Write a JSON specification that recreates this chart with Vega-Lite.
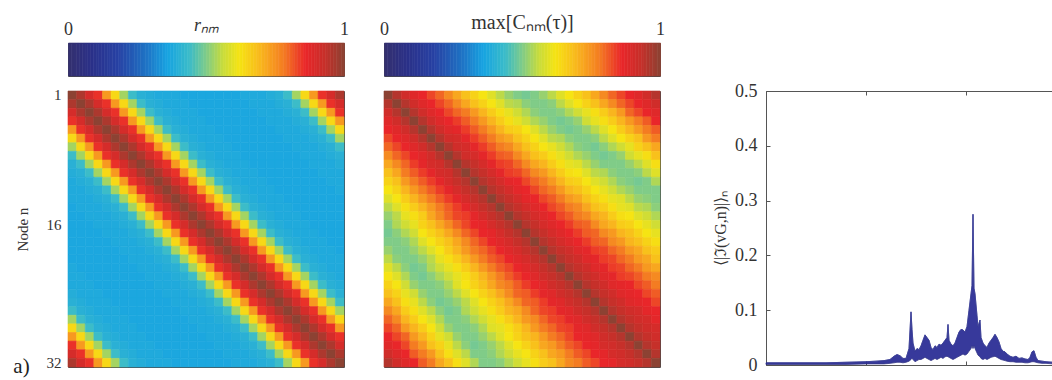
{
"$schema":"https://vega.github.io/schema/vega-lite/v6.json",
"padding":{"left":12,"top":11,"right":0,"bottom":0},
"background":"white",
"config":{"font":"Liberation Serif","view":{"stroke":"#4a4a4a","strokeWidth":1},"axis":{"labelFont":"Liberation Serif","titleFont":"Liberation Serif","labelColor":"#333","titleColor":"#333","titleFontWeight":"normal","grid":false}},
"datasets":{
"cbar":[{"v":0.005},{"v":0.015},{"v":0.025},{"v":0.035},{"v":0.045},{"v":0.055},{"v":0.065},{"v":0.075},{"v":0.085},{"v":0.095},{"v":0.105},{"v":0.115},{"v":0.125},{"v":0.135},{"v":0.145},{"v":0.155},{"v":0.165},{"v":0.175},{"v":0.185},{"v":0.195},{"v":0.205},{"v":0.215},{"v":0.225},{"v":0.235},{"v":0.245},{"v":0.255},{"v":0.265},{"v":0.275},{"v":0.285},{"v":0.295},{"v":0.305},{"v":0.315},{"v":0.325},{"v":0.335},{"v":0.345},{"v":0.355},{"v":0.365},{"v":0.375},{"v":0.385},{"v":0.395},{"v":0.405},{"v":0.415},{"v":0.425},{"v":0.435},{"v":0.445},{"v":0.455},{"v":0.465},{"v":0.475},{"v":0.485},{"v":0.495},{"v":0.505},{"v":0.515},{"v":0.525},{"v":0.535},{"v":0.545},{"v":0.555},{"v":0.565},{"v":0.575},{"v":0.585},{"v":0.595},{"v":0.605},{"v":0.615},{"v":0.625},{"v":0.635},{"v":0.645},{"v":0.655},{"v":0.665},{"v":0.675},{"v":0.685},{"v":0.695},{"v":0.705},{"v":0.715},{"v":0.725},{"v":0.735},{"v":0.745},{"v":0.755},{"v":0.765},{"v":0.775},{"v":0.785},{"v":0.795},{"v":0.805},{"v":0.815},{"v":0.825},{"v":0.835},{"v":0.845},{"v":0.855},{"v":0.865},{"v":0.875},{"v":0.885},{"v":0.895},{"v":0.905},{"v":0.915},{"v":0.925},{"v":0.935},{"v":0.945},{"v":0.955},{"v":0.965},{"v":0.975},{"v":0.985},{"v":0.995}],
"spec":[{"f":0,"lo":0.001,"hi":0.004},{"f":20,"lo":0.001,"hi":0.004},{"f":40,"lo":0.001,"hi":0.004},{"f":60,"lo":0.001,"hi":0.004},{"f":80,"lo":0.001,"hi":0.005},{"f":100,"lo":0.002,"hi":0.006},{"f":110,"lo":0.002,"hi":0.007},{"f":118,"lo":0.002,"hi":0.008},{"f":124,"lo":0.003,"hi":0.01},{"f":128,"lo":0.004,"hi":0.016},{"f":131,"lo":0.005,"hi":0.019},{"f":134,"lo":0.005,"hi":0.017},{"f":137,"lo":0.004,"hi":0.012},{"f":140,"lo":0.005,"hi":0.012},{"f":143,"lo":0.007,"hi":0.03},{"f":145,"lo":0.01,"hi":0.097},{"f":146,"lo":0.012,"hi":0.065},{"f":147,"lo":0.01,"hi":0.04},{"f":149,"lo":0.006,"hi":0.025},{"f":151,"lo":0.008,"hi":0.03},{"f":153,"lo":0.01,"hi":0.028},{"f":155,"lo":0.01,"hi":0.035},{"f":157,"lo":0.012,"hi":0.045},{"f":159,"lo":0.014,"hi":0.055},{"f":161,"lo":0.012,"hi":0.05},{"f":163,"lo":0.01,"hi":0.045},{"f":165,"lo":0.008,"hi":0.032},{"f":167,"lo":0.01,"hi":0.028},{"f":169,"lo":0.012,"hi":0.035},{"f":171,"lo":0.01,"hi":0.032},{"f":173,"lo":0.012,"hi":0.038},{"f":175,"lo":0.014,"hi":0.036},{"f":177,"lo":0.012,"hi":0.04},{"f":179,"lo":0.015,"hi":0.045},{"f":181,"lo":0.016,"hi":0.05},{"f":182,"lo":0.015,"hi":0.074},{"f":183,"lo":0.014,"hi":0.045},{"f":185,"lo":0.012,"hi":0.038},{"f":187,"lo":0.01,"hi":0.035},{"f":189,"lo":0.012,"hi":0.04},{"f":191,"lo":0.014,"hi":0.05},{"f":193,"lo":0.016,"hi":0.06},{"f":195,"lo":0.018,"hi":0.065},{"f":197,"lo":0.02,"hi":0.064},{"f":199,"lo":0.018,"hi":0.06},{"f":201,"lo":0.02,"hi":0.07},{"f":203,"lo":0.025,"hi":0.1},{"f":205,"lo":0.03,"hi":0.13},{"f":206,"lo":0.035,"hi":0.145},{"f":207,"lo":0.03,"hi":0.275},{"f":208,"lo":0.035,"hi":0.14},{"f":209,"lo":0.03,"hi":0.13},{"f":211,"lo":0.022,"hi":0.09},{"f":212,"lo":0.018,"hi":0.07},{"f":214,"lo":0.015,"hi":0.082},{"f":215,"lo":0.012,"hi":0.05},{"f":217,"lo":0.01,"hi":0.04},{"f":219,"lo":0.012,"hi":0.035},{"f":221,"lo":0.01,"hi":0.032},{"f":223,"lo":0.012,"hi":0.04},{"f":225,"lo":0.014,"hi":0.045},{"f":227,"lo":0.015,"hi":0.05},{"f":229,"lo":0.016,"hi":0.056},{"f":231,"lo":0.014,"hi":0.05},{"f":233,"lo":0.012,"hi":0.042},{"f":235,"lo":0.01,"hi":0.03},{"f":237,"lo":0.009,"hi":0.025},{"f":239,"lo":0.008,"hi":0.024},{"f":241,"lo":0.007,"hi":0.02},{"f":244,"lo":0.006,"hi":0.016},{"f":247,"lo":0.006,"hi":0.014},{"f":250,"lo":0.005,"hi":0.016},{"f":253,"lo":0.005,"hi":0.012},{"f":256,"lo":0.005,"hi":0.013},{"f":259,"lo":0.004,"hi":0.011},{"f":262,"lo":0.004,"hi":0.01},{"f":264,"lo":0.005,"hi":0.014},{"f":266,"lo":0.006,"hi":0.024},{"f":268,"lo":0.006,"hi":0.026},{"f":270,"lo":0.005,"hi":0.014},{"f":272,"lo":0.004,"hi":0.008},{"f":276,"lo":0.003,"hi":0.007},{"f":280,"lo":0.003,"hi":0.006},{"f":287,"lo":0.002,"hi":0.005}],
"cells":[
{"n":1,"m":1,"r":1,"c":1},{"n":1,"m":2,"r":0.96,"c":0.95},{"n":1,"m":3,"r":0.9,"c":0.91},{"n":1,"m":4,"r":0.85,"c":0.88},{"n":1,"m":5,"r":0.74,"c":0.86},{"n":1,"m":6,"r":0.64,"c":0.83},{"n":1,"m":7,"r":0.53,"c":0.8},{"n":1,"m":8,"r":0.44,"c":0.76},{"n":1,"m":9,"r":0.4,"c":0.72},{"n":1,"m":10,"r":0.39,"c":0.68},{"n":1,"m":11,"r":0.38,"c":0.65},{"n":1,"m":12,"r":0.38,"c":0.62},{"n":1,"m":13,"r":0.38,"c":0.59},{"n":1,"m":14,"r":0.37,"c":0.55},{"n":1,"m":15,"r":0.37,"c":0.52},{"n":1,"m":16,"r":0.37,"c":0.5},{"n":1,"m":17,"r":0.37,"c":0.49},{"n":1,"m":18,"r":0.37,"c":0.5},{"n":1,"m":19,"r":0.37,"c":0.52},{"n":1,"m":20,"r":0.37,"c":0.55},{"n":1,"m":21,"r":0.38,"c":0.59},{"n":1,"m":22,"r":0.38,"c":0.62},{"n":1,"m":23,"r":0.38,"c":0.65},{"n":1,"m":24,"r":0.39,"c":0.68},{"n":1,"m":25,"r":0.4,"c":0.72},{"n":1,"m":26,"r":0.44,"c":0.76},{"n":1,"m":27,"r":0.53,"c":0.8},{"n":1,"m":28,"r":0.64,"c":0.83},{"n":1,"m":29,"r":0.74,"c":0.86},{"n":1,"m":30,"r":0.85,"c":0.88},{"n":1,"m":31,"r":0.9,"c":0.91},{"n":1,"m":32,"r":0.96,"c":0.95},
{"n":2,"m":1,"r":0.96,"c":0.95},{"n":2,"m":2,"r":1,"c":1},{"n":2,"m":3,"r":0.96,"c":0.95},{"n":2,"m":4,"r":0.9,"c":0.91},{"n":2,"m":5,"r":0.85,"c":0.88},{"n":2,"m":6,"r":0.74,"c":0.86},{"n":2,"m":7,"r":0.64,"c":0.83},{"n":2,"m":8,"r":0.53,"c":0.8},{"n":2,"m":9,"r":0.44,"c":0.76},{"n":2,"m":10,"r":0.4,"c":0.72},{"n":2,"m":11,"r":0.39,"c":0.68},{"n":2,"m":12,"r":0.38,"c":0.65},{"n":2,"m":13,"r":0.38,"c":0.62},{"n":2,"m":14,"r":0.38,"c":0.59},{"n":2,"m":15,"r":0.37,"c":0.55},{"n":2,"m":16,"r":0.37,"c":0.54},{"n":2,"m":17,"r":0.37,"c":0.51},{"n":2,"m":18,"r":0.37,"c":0.5},{"n":2,"m":19,"r":0.37,"c":0.5},{"n":2,"m":20,"r":0.37,"c":0.51},{"n":2,"m":21,"r":0.37,"c":0.55},{"n":2,"m":22,"r":0.38,"c":0.59},{"n":2,"m":23,"r":0.38,"c":0.62},{"n":2,"m":24,"r":0.38,"c":0.65},{"n":2,"m":25,"r":0.39,"c":0.68},{"n":2,"m":26,"r":0.4,"c":0.72},{"n":2,"m":27,"r":0.44,"c":0.76},{"n":2,"m":28,"r":0.53,"c":0.8},{"n":2,"m":29,"r":0.64,"c":0.83},{"n":2,"m":30,"r":0.74,"c":0.86},{"n":2,"m":31,"r":0.85,"c":0.88},{"n":2,"m":32,"r":0.9,"c":0.91},
{"n":3,"m":1,"r":0.9,"c":0.91},{"n":3,"m":2,"r":0.96,"c":0.95},{"n":3,"m":3,"r":1,"c":1},{"n":3,"m":4,"r":0.96,"c":0.95},{"n":3,"m":5,"r":0.9,"c":0.91},{"n":3,"m":6,"r":0.85,"c":0.88},{"n":3,"m":7,"r":0.74,"c":0.86},{"n":3,"m":8,"r":0.64,"c":0.83},{"n":3,"m":9,"r":0.53,"c":0.8},{"n":3,"m":10,"r":0.44,"c":0.78},{"n":3,"m":11,"r":0.4,"c":0.74},{"n":3,"m":12,"r":0.39,"c":0.7},{"n":3,"m":13,"r":0.38,"c":0.66},{"n":3,"m":14,"r":0.38,"c":0.63},{"n":3,"m":15,"r":0.38,"c":0.6},{"n":3,"m":16,"r":0.37,"c":0.57},{"n":3,"m":17,"r":0.37,"c":0.54},{"n":3,"m":18,"r":0.37,"c":0.51},{"n":3,"m":19,"r":0.37,"c":0.5},{"n":3,"m":20,"r":0.37,"c":0.5},{"n":3,"m":21,"r":0.37,"c":0.51},{"n":3,"m":22,"r":0.37,"c":0.54},{"n":3,"m":23,"r":0.38,"c":0.57},{"n":3,"m":24,"r":0.38,"c":0.6},{"n":3,"m":25,"r":0.38,"c":0.63},{"n":3,"m":26,"r":0.39,"c":0.66},{"n":3,"m":27,"r":0.4,"c":0.7},{"n":3,"m":28,"r":0.44,"c":0.74},{"n":3,"m":29,"r":0.53,"c":0.8},{"n":3,"m":30,"r":0.64,"c":0.83},{"n":3,"m":31,"r":0.74,"c":0.86},{"n":3,"m":32,"r":0.85,"c":0.88},
{"n":4,"m":1,"r":0.85,"c":0.88},{"n":4,"m":2,"r":0.9,"c":0.91},{"n":4,"m":3,"r":0.96,"c":0.95},{"n":4,"m":4,"r":1,"c":1},{"n":4,"m":5,"r":0.96,"c":0.95},{"n":4,"m":6,"r":0.9,"c":0.91},{"n":4,"m":7,"r":0.85,"c":0.88},{"n":4,"m":8,"r":0.74,"c":0.86},{"n":4,"m":9,"r":0.64,"c":0.84},{"n":4,"m":10,"r":0.53,"c":0.81},{"n":4,"m":11,"r":0.44,"c":0.78},{"n":4,"m":12,"r":0.4,"c":0.74},{"n":4,"m":13,"r":0.39,"c":0.7},{"n":4,"m":14,"r":0.38,"c":0.66},{"n":4,"m":15,"r":0.38,"c":0.63},{"n":4,"m":16,"r":0.38,"c":0.6},{"n":4,"m":17,"r":0.37,"c":0.57},{"n":4,"m":18,"r":0.37,"c":0.54},{"n":4,"m":19,"r":0.37,"c":0.52},{"n":4,"m":20,"r":0.37,"c":0.5},{"n":4,"m":21,"r":0.37,"c":0.49},{"n":4,"m":22,"r":0.37,"c":0.5},{"n":4,"m":23,"r":0.37,"c":0.52},{"n":4,"m":24,"r":0.38,"c":0.57},{"n":4,"m":25,"r":0.38,"c":0.6},{"n":4,"m":26,"r":0.38,"c":0.63},{"n":4,"m":27,"r":0.39,"c":0.66},{"n":4,"m":28,"r":0.4,"c":0.7},{"n":4,"m":29,"r":0.44,"c":0.74},{"n":4,"m":30,"r":0.53,"c":0.78},{"n":4,"m":31,"r":0.64,"c":0.81},{"n":4,"m":32,"r":0.74,"c":0.86},
{"n":5,"m":1,"r":0.74,"c":0.86},{"n":5,"m":2,"r":0.85,"c":0.88},{"n":5,"m":3,"r":0.9,"c":0.91},{"n":5,"m":4,"r":0.96,"c":0.95},{"n":5,"m":5,"r":1,"c":1},{"n":5,"m":6,"r":0.96,"c":0.95},{"n":5,"m":7,"r":0.9,"c":0.91},{"n":5,"m":8,"r":0.85,"c":0.88},{"n":5,"m":9,"r":0.74,"c":0.87},{"n":5,"m":10,"r":0.64,"c":0.84},{"n":5,"m":11,"r":0.53,"c":0.81},{"n":5,"m":12,"r":0.44,"c":0.78},{"n":5,"m":13,"r":0.4,"c":0.74},{"n":5,"m":14,"r":0.39,"c":0.7},{"n":5,"m":15,"r":0.38,"c":0.66},{"n":5,"m":16,"r":0.38,"c":0.65},{"n":5,"m":17,"r":0.38,"c":0.62},{"n":5,"m":18,"r":0.37,"c":0.59},{"n":5,"m":19,"r":0.37,"c":0.55},{"n":5,"m":20,"r":0.37,"c":0.52},{"n":5,"m":21,"r":0.37,"c":0.5},{"n":5,"m":22,"r":0.37,"c":0.49},{"n":5,"m":23,"r":0.37,"c":0.5},{"n":5,"m":24,"r":0.37,"c":0.52},{"n":5,"m":25,"r":0.38,"c":0.55},{"n":5,"m":26,"r":0.38,"c":0.59},{"n":5,"m":27,"r":0.38,"c":0.62},{"n":5,"m":28,"r":0.39,"c":0.66},{"n":5,"m":29,"r":0.4,"c":0.7},{"n":5,"m":30,"r":0.44,"c":0.74},{"n":5,"m":31,"r":0.53,"c":0.78},{"n":5,"m":32,"r":0.64,"c":0.81},
{"n":6,"m":1,"r":0.64,"c":0.83},{"n":6,"m":2,"r":0.74,"c":0.86},{"n":6,"m":3,"r":0.85,"c":0.88},{"n":6,"m":4,"r":0.9,"c":0.91},{"n":6,"m":5,"r":0.96,"c":0.95},{"n":6,"m":6,"r":1,"c":1},{"n":6,"m":7,"r":0.96,"c":0.95},{"n":6,"m":8,"r":0.9,"c":0.91},{"n":6,"m":9,"r":0.85,"c":0.9},{"n":6,"m":10,"r":0.74,"c":0.87},{"n":6,"m":11,"r":0.64,"c":0.84},{"n":6,"m":12,"r":0.53,"c":0.81},{"n":6,"m":13,"r":0.44,"c":0.78},{"n":6,"m":14,"r":0.4,"c":0.74},{"n":6,"m":15,"r":0.39,"c":0.72},{"n":6,"m":16,"r":0.38,"c":0.68},{"n":6,"m":17,"r":0.38,"c":0.65},{"n":6,"m":18,"r":0.38,"c":0.62},{"n":6,"m":19,"r":0.37,"c":0.59},{"n":6,"m":20,"r":0.37,"c":0.55},{"n":6,"m":21,"r":0.37,"c":0.54},{"n":6,"m":22,"r":0.37,"c":0.51},{"n":6,"m":23,"r":0.37,"c":0.5},{"n":6,"m":24,"r":0.37,"c":0.5},{"n":6,"m":25,"r":0.37,"c":0.51},{"n":6,"m":26,"r":0.38,"c":0.55},{"n":6,"m":27,"r":0.38,"c":0.59},{"n":6,"m":28,"r":0.38,"c":0.62},{"n":6,"m":29,"r":0.39,"c":0.65},{"n":6,"m":30,"r":0.4,"c":0.68},{"n":6,"m":31,"r":0.44,"c":0.74},{"n":6,"m":32,"r":0.53,"c":0.78},
{"n":7,"m":1,"r":0.53,"c":0.8},{"n":7,"m":2,"r":0.64,"c":0.83},{"n":7,"m":3,"r":0.74,"c":0.86},{"n":7,"m":4,"r":0.85,"c":0.88},{"n":7,"m":5,"r":0.9,"c":0.91},{"n":7,"m":6,"r":0.96,"c":0.95},{"n":7,"m":7,"r":1,"c":1},{"n":7,"m":8,"r":0.96,"c":0.95},{"n":7,"m":9,"r":0.9,"c":0.91},{"n":7,"m":10,"r":0.85,"c":0.9},{"n":7,"m":11,"r":0.74,"c":0.87},{"n":7,"m":12,"r":0.64,"c":0.84},{"n":7,"m":13,"r":0.53,"c":0.81},{"n":7,"m":14,"r":0.44,"c":0.78},{"n":7,"m":15,"r":0.4,"c":0.76},{"n":7,"m":16,"r":0.39,"c":0.72},{"n":7,"m":17,"r":0.38,"c":0.68},{"n":7,"m":18,"r":0.38,"c":0.65},{"n":7,"m":19,"r":0.38,"c":0.62},{"n":7,"m":20,"r":0.37,"c":0.6},{"n":7,"m":21,"r":0.37,"c":0.57},{"n":7,"m":22,"r":0.37,"c":0.54},{"n":7,"m":23,"r":0.37,"c":0.51},{"n":7,"m":24,"r":0.37,"c":0.5},{"n":7,"m":25,"r":0.37,"c":0.49},{"n":7,"m":26,"r":0.37,"c":0.51},{"n":7,"m":27,"r":0.38,"c":0.54},{"n":7,"m":28,"r":0.38,"c":0.57},{"n":7,"m":29,"r":0.38,"c":0.6},{"n":7,"m":30,"r":0.39,"c":0.65},{"n":7,"m":31,"r":0.4,"c":0.68},{"n":7,"m":32,"r":0.44,"c":0.72},
{"n":8,"m":1,"r":0.44,"c":0.76},{"n":8,"m":2,"r":0.53,"c":0.8},{"n":8,"m":3,"r":0.64,"c":0.83},{"n":8,"m":4,"r":0.74,"c":0.86},{"n":8,"m":5,"r":0.85,"c":0.88},{"n":8,"m":6,"r":0.9,"c":0.91},{"n":8,"m":7,"r":0.96,"c":0.95},{"n":8,"m":8,"r":1,"c":1},{"n":8,"m":9,"r":0.96,"c":0.95},{"n":8,"m":10,"r":0.9,"c":0.91},{"n":8,"m":11,"r":0.85,"c":0.9},{"n":8,"m":12,"r":0.74,"c":0.87},{"n":8,"m":13,"r":0.64,"c":0.84},{"n":8,"m":14,"r":0.53,"c":0.81},{"n":8,"m":15,"r":0.44,"c":0.8},{"n":8,"m":16,"r":0.4,"c":0.76},{"n":8,"m":17,"r":0.39,"c":0.72},{"n":8,"m":18,"r":0.38,"c":0.68},{"n":8,"m":19,"r":0.38,"c":0.66},{"n":8,"m":20,"r":0.38,"c":0.63},{"n":8,"m":21,"r":0.37,"c":0.6},{"n":8,"m":22,"r":0.37,"c":0.57},{"n":8,"m":23,"r":0.37,"c":0.54},{"n":8,"m":24,"r":0.37,"c":0.52},{"n":8,"m":25,"r":0.37,"c":0.5},{"n":8,"m":26,"r":0.37,"c":0.49},{"n":8,"m":27,"r":0.37,"c":0.5},{"n":8,"m":28,"r":0.38,"c":0.52},{"n":8,"m":29,"r":0.38,"c":0.57},{"n":8,"m":30,"r":0.38,"c":0.6},{"n":8,"m":31,"r":0.39,"c":0.63},{"n":8,"m":32,"r":0.4,"c":0.68},
{"n":9,"m":1,"r":0.4,"c":0.72},{"n":9,"m":2,"r":0.44,"c":0.76},{"n":9,"m":3,"r":0.53,"c":0.8},{"n":9,"m":4,"r":0.64,"c":0.84},{"n":9,"m":5,"r":0.74,"c":0.87},{"n":9,"m":6,"r":0.85,"c":0.9},{"n":9,"m":7,"r":0.9,"c":0.91},{"n":9,"m":8,"r":0.96,"c":0.95},{"n":9,"m":9,"r":1,"c":1},{"n":9,"m":10,"r":0.96,"c":0.95},{"n":9,"m":11,"r":0.9,"c":0.93},{"n":9,"m":12,"r":0.85,"c":0.9},{"n":9,"m":13,"r":0.74,"c":0.87},{"n":9,"m":14,"r":0.64,"c":0.84},{"n":9,"m":15,"r":0.53,"c":0.83},{"n":9,"m":16,"r":0.44,"c":0.8},{"n":9,"m":17,"r":0.4,"c":0.76},{"n":9,"m":18,"r":0.39,"c":0.72},{"n":9,"m":19,"r":0.38,"c":0.7},{"n":9,"m":20,"r":0.38,"c":0.66},{"n":9,"m":21,"r":0.38,"c":0.63},{"n":9,"m":22,"r":0.37,"c":0.6},{"n":9,"m":23,"r":0.37,"c":0.59},{"n":9,"m":24,"r":0.37,"c":0.55},{"n":9,"m":25,"r":0.37,"c":0.52},{"n":9,"m":26,"r":0.37,"c":0.5},{"n":9,"m":27,"r":0.37,"c":0.5},{"n":9,"m":28,"r":0.37,"c":0.5},{"n":9,"m":29,"r":0.38,"c":0.52},{"n":9,"m":30,"r":0.38,"c":0.55},{"n":9,"m":31,"r":0.38,"c":0.59},{"n":9,"m":32,"r":0.39,"c":0.63},
{"n":10,"m":1,"r":0.39,"c":0.68},{"n":10,"m":2,"r":0.4,"c":0.72},{"n":10,"m":3,"r":0.44,"c":0.78},{"n":10,"m":4,"r":0.53,"c":0.81},{"n":10,"m":5,"r":0.64,"c":0.84},{"n":10,"m":6,"r":0.74,"c":0.87},{"n":10,"m":7,"r":0.85,"c":0.9},{"n":10,"m":8,"r":0.9,"c":0.91},{"n":10,"m":9,"r":0.96,"c":0.95},{"n":10,"m":10,"r":1,"c":1},{"n":10,"m":11,"r":0.96,"c":0.95},{"n":10,"m":12,"r":0.9,"c":0.93},{"n":10,"m":13,"r":0.85,"c":0.9},{"n":10,"m":14,"r":0.74,"c":0.87},{"n":10,"m":15,"r":0.64,"c":0.84},{"n":10,"m":16,"r":0.53,"c":0.83},{"n":10,"m":17,"r":0.44,"c":0.8},{"n":10,"m":18,"r":0.4,"c":0.76},{"n":10,"m":19,"r":0.39,"c":0.74},{"n":10,"m":20,"r":0.38,"c":0.7},{"n":10,"m":21,"r":0.38,"c":0.66},{"n":10,"m":22,"r":0.38,"c":0.63},{"n":10,"m":23,"r":0.37,"c":0.62},{"n":10,"m":24,"r":0.37,"c":0.59},{"n":10,"m":25,"r":0.37,"c":0.55},{"n":10,"m":26,"r":0.37,"c":0.54},{"n":10,"m":27,"r":0.37,"c":0.51},{"n":10,"m":28,"r":0.37,"c":0.5},{"n":10,"m":29,"r":0.37,"c":0.5},{"n":10,"m":30,"r":0.38,"c":0.51},{"n":10,"m":31,"r":0.38,"c":0.55},{"n":10,"m":32,"r":0.38,"c":0.59},
{"n":11,"m":1,"r":0.38,"c":0.65},{"n":11,"m":2,"r":0.39,"c":0.68},{"n":11,"m":3,"r":0.4,"c":0.74},{"n":11,"m":4,"r":0.44,"c":0.78},{"n":11,"m":5,"r":0.53,"c":0.81},{"n":11,"m":6,"r":0.64,"c":0.84},{"n":11,"m":7,"r":0.74,"c":0.87},{"n":11,"m":8,"r":0.85,"c":0.9},{"n":11,"m":9,"r":0.9,"c":0.93},{"n":11,"m":10,"r":0.96,"c":0.95},{"n":11,"m":11,"r":1,"c":1},{"n":11,"m":12,"r":0.96,"c":0.95},{"n":11,"m":13,"r":0.9,"c":0.93},{"n":11,"m":14,"r":0.85,"c":0.9},{"n":11,"m":15,"r":0.74,"c":0.87},{"n":11,"m":16,"r":0.64,"c":0.86},{"n":11,"m":17,"r":0.53,"c":0.83},{"n":11,"m":18,"r":0.44,"c":0.8},{"n":11,"m":19,"r":0.4,"c":0.78},{"n":11,"m":20,"r":0.39,"c":0.74},{"n":11,"m":21,"r":0.38,"c":0.7},{"n":11,"m":22,"r":0.38,"c":0.66},{"n":11,"m":23,"r":0.38,"c":0.65},{"n":11,"m":24,"r":0.37,"c":0.62},{"n":11,"m":25,"r":0.37,"c":0.59},{"n":11,"m":26,"r":0.37,"c":0.57},{"n":11,"m":27,"r":0.37,"c":0.54},{"n":11,"m":28,"r":0.37,"c":0.51},{"n":11,"m":29,"r":0.37,"c":0.5},{"n":11,"m":30,"r":0.37,"c":0.49},{"n":11,"m":31,"r":0.38,"c":0.5},{"n":11,"m":32,"r":0.38,"c":0.54},
{"n":12,"m":1,"r":0.38,"c":0.62},{"n":12,"m":2,"r":0.38,"c":0.65},{"n":12,"m":3,"r":0.39,"c":0.7},{"n":12,"m":4,"r":0.4,"c":0.74},{"n":12,"m":5,"r":0.44,"c":0.78},{"n":12,"m":6,"r":0.53,"c":0.81},{"n":12,"m":7,"r":0.64,"c":0.84},{"n":12,"m":8,"r":0.74,"c":0.87},{"n":12,"m":9,"r":0.85,"c":0.9},{"n":12,"m":10,"r":0.9,"c":0.93},{"n":12,"m":11,"r":0.96,"c":0.95},{"n":12,"m":12,"r":1,"c":1},{"n":12,"m":13,"r":0.96,"c":0.95},{"n":12,"m":14,"r":0.9,"c":0.93},{"n":12,"m":15,"r":0.85,"c":0.9},{"n":12,"m":16,"r":0.74,"c":0.87},{"n":12,"m":17,"r":0.64,"c":0.86},{"n":12,"m":18,"r":0.53,"c":0.83},{"n":12,"m":19,"r":0.44,"c":0.8},{"n":12,"m":20,"r":0.4,"c":0.78},{"n":12,"m":21,"r":0.39,"c":0.74},{"n":12,"m":22,"r":0.38,"c":0.7},{"n":12,"m":23,"r":0.38,"c":0.68},{"n":12,"m":24,"r":0.38,"c":0.65},{"n":12,"m":25,"r":0.37,"c":0.62},{"n":12,"m":26,"r":0.37,"c":0.6},{"n":12,"m":27,"r":0.37,"c":0.57},{"n":12,"m":28,"r":0.37,"c":0.54},{"n":12,"m":29,"r":0.37,"c":0.52},{"n":12,"m":30,"r":0.37,"c":0.5},{"n":12,"m":31,"r":0.37,"c":0.5},{"n":12,"m":32,"r":0.38,"c":0.5},
{"n":13,"m":1,"r":0.38,"c":0.59},{"n":13,"m":2,"r":0.38,"c":0.62},{"n":13,"m":3,"r":0.38,"c":0.66},{"n":13,"m":4,"r":0.39,"c":0.7},{"n":13,"m":5,"r":0.4,"c":0.74},{"n":13,"m":6,"r":0.44,"c":0.78},{"n":13,"m":7,"r":0.53,"c":0.81},{"n":13,"m":8,"r":0.64,"c":0.84},{"n":13,"m":9,"r":0.74,"c":0.87},{"n":13,"m":10,"r":0.85,"c":0.9},{"n":13,"m":11,"r":0.9,"c":0.93},{"n":13,"m":12,"r":0.96,"c":0.95},{"n":13,"m":13,"r":1,"c":1},{"n":13,"m":14,"r":0.96,"c":0.95},{"n":13,"m":15,"r":0.9,"c":0.93},{"n":13,"m":16,"r":0.85,"c":0.9},{"n":13,"m":17,"r":0.74,"c":0.87},{"n":13,"m":18,"r":0.64,"c":0.86},{"n":13,"m":19,"r":0.53,"c":0.83},{"n":13,"m":20,"r":0.44,"c":0.81},{"n":13,"m":21,"r":0.4,"c":0.78},{"n":13,"m":22,"r":0.39,"c":0.74},{"n":13,"m":23,"r":0.38,"c":0.72},{"n":13,"m":24,"r":0.38,"c":0.68},{"n":13,"m":25,"r":0.38,"c":0.65},{"n":13,"m":26,"r":0.37,"c":0.63},{"n":13,"m":27,"r":0.37,"c":0.6},{"n":13,"m":28,"r":0.37,"c":0.59},{"n":13,"m":29,"r":0.37,"c":0.55},{"n":13,"m":30,"r":0.37,"c":0.52},{"n":13,"m":31,"r":0.37,"c":0.51},{"n":13,"m":32,"r":0.37,"c":0.5},
{"n":14,"m":1,"r":0.37,"c":0.55},{"n":14,"m":2,"r":0.38,"c":0.59},{"n":14,"m":3,"r":0.38,"c":0.63},{"n":14,"m":4,"r":0.38,"c":0.66},{"n":14,"m":5,"r":0.39,"c":0.7},{"n":14,"m":6,"r":0.4,"c":0.74},{"n":14,"m":7,"r":0.44,"c":0.78},{"n":14,"m":8,"r":0.53,"c":0.81},{"n":14,"m":9,"r":0.64,"c":0.84},{"n":14,"m":10,"r":0.74,"c":0.87},{"n":14,"m":11,"r":0.85,"c":0.9},{"n":14,"m":12,"r":0.9,"c":0.93},{"n":14,"m":13,"r":0.96,"c":0.95},{"n":14,"m":14,"r":1,"c":1},{"n":14,"m":15,"r":0.96,"c":0.95},{"n":14,"m":16,"r":0.9,"c":0.93},{"n":14,"m":17,"r":0.85,"c":0.9},{"n":14,"m":18,"r":0.74,"c":0.88},{"n":14,"m":19,"r":0.64,"c":0.86},{"n":14,"m":20,"r":0.53,"c":0.83},{"n":14,"m":21,"r":0.44,"c":0.81},{"n":14,"m":22,"r":0.4,"c":0.78},{"n":14,"m":23,"r":0.39,"c":0.76},{"n":14,"m":24,"r":0.38,"c":0.72},{"n":14,"m":25,"r":0.38,"c":0.68},{"n":14,"m":26,"r":0.38,"c":0.66},{"n":14,"m":27,"r":0.37,"c":0.63},{"n":14,"m":28,"r":0.37,"c":0.6},{"n":14,"m":29,"r":0.37,"c":0.59},{"n":14,"m":30,"r":0.37,"c":0.55},{"n":14,"m":31,"r":0.37,"c":0.54},{"n":14,"m":32,"r":0.37,"c":0.51},
{"n":15,"m":1,"r":0.37,"c":0.52},{"n":15,"m":2,"r":0.37,"c":0.55},{"n":15,"m":3,"r":0.38,"c":0.6},{"n":15,"m":4,"r":0.38,"c":0.63},{"n":15,"m":5,"r":0.38,"c":0.66},{"n":15,"m":6,"r":0.39,"c":0.72},{"n":15,"m":7,"r":0.4,"c":0.76},{"n":15,"m":8,"r":0.44,"c":0.8},{"n":15,"m":9,"r":0.53,"c":0.83},{"n":15,"m":10,"r":0.64,"c":0.84},{"n":15,"m":11,"r":0.74,"c":0.87},{"n":15,"m":12,"r":0.85,"c":0.9},{"n":15,"m":13,"r":0.9,"c":0.93},{"n":15,"m":14,"r":0.96,"c":0.95},{"n":15,"m":15,"r":1,"c":1},{"n":15,"m":16,"r":0.96,"c":0.95},{"n":15,"m":17,"r":0.9,"c":0.93},{"n":15,"m":18,"r":0.85,"c":0.9},{"n":15,"m":19,"r":0.74,"c":0.88},{"n":15,"m":20,"r":0.64,"c":0.86},{"n":15,"m":21,"r":0.53,"c":0.83},{"n":15,"m":22,"r":0.44,"c":0.81},{"n":15,"m":23,"r":0.4,"c":0.78},{"n":15,"m":24,"r":0.39,"c":0.76},{"n":15,"m":25,"r":0.38,"c":0.72},{"n":15,"m":26,"r":0.38,"c":0.7},{"n":15,"m":27,"r":0.38,"c":0.66},{"n":15,"m":28,"r":0.37,"c":0.63},{"n":15,"m":29,"r":0.37,"c":0.62},{"n":15,"m":30,"r":0.37,"c":0.59},{"n":15,"m":31,"r":0.37,"c":0.57},{"n":15,"m":32,"r":0.37,"c":0.54},
{"n":16,"m":1,"r":0.37,"c":0.5},{"n":16,"m":2,"r":0.37,"c":0.54},{"n":16,"m":3,"r":0.37,"c":0.57},{"n":16,"m":4,"r":0.38,"c":0.6},{"n":16,"m":5,"r":0.38,"c":0.65},{"n":16,"m":6,"r":0.38,"c":0.68},{"n":16,"m":7,"r":0.39,"c":0.72},{"n":16,"m":8,"r":0.4,"c":0.76},{"n":16,"m":9,"r":0.44,"c":0.8},{"n":16,"m":10,"r":0.53,"c":0.83},{"n":16,"m":11,"r":0.64,"c":0.86},{"n":16,"m":12,"r":0.74,"c":0.87},{"n":16,"m":13,"r":0.85,"c":0.9},{"n":16,"m":14,"r":0.9,"c":0.93},{"n":16,"m":15,"r":0.96,"c":0.95},{"n":16,"m":16,"r":1,"c":1},{"n":16,"m":17,"r":0.96,"c":0.95},{"n":16,"m":18,"r":0.9,"c":0.93},{"n":16,"m":19,"r":0.85,"c":0.9},{"n":16,"m":20,"r":0.74,"c":0.88},{"n":16,"m":21,"r":0.64,"c":0.86},{"n":16,"m":22,"r":0.53,"c":0.84},{"n":16,"m":23,"r":0.44,"c":0.81},{"n":16,"m":24,"r":0.4,"c":0.8},{"n":16,"m":25,"r":0.39,"c":0.76},{"n":16,"m":26,"r":0.38,"c":0.72},{"n":16,"m":27,"r":0.38,"c":0.7},{"n":16,"m":28,"r":0.38,"c":0.66},{"n":16,"m":29,"r":0.37,"c":0.65},{"n":16,"m":30,"r":0.37,"c":0.62},{"n":16,"m":31,"r":0.37,"c":0.6},{"n":16,"m":32,"r":0.37,"c":0.57},
{"n":17,"m":1,"r":0.37,"c":0.49},{"n":17,"m":2,"r":0.37,"c":0.51},{"n":17,"m":3,"r":0.37,"c":0.54},{"n":17,"m":4,"r":0.37,"c":0.57},{"n":17,"m":5,"r":0.38,"c":0.62},{"n":17,"m":6,"r":0.38,"c":0.65},{"n":17,"m":7,"r":0.38,"c":0.68},{"n":17,"m":8,"r":0.39,"c":0.72},{"n":17,"m":9,"r":0.4,"c":0.76},{"n":17,"m":10,"r":0.44,"c":0.8},{"n":17,"m":11,"r":0.53,"c":0.83},{"n":17,"m":12,"r":0.64,"c":0.86},{"n":17,"m":13,"r":0.74,"c":0.87},{"n":17,"m":14,"r":0.85,"c":0.9},{"n":17,"m":15,"r":0.9,"c":0.93},{"n":17,"m":16,"r":0.96,"c":0.95},{"n":17,"m":17,"r":1,"c":1},{"n":17,"m":18,"r":0.96,"c":0.95},{"n":17,"m":19,"r":0.9,"c":0.93},{"n":17,"m":20,"r":0.85,"c":0.9},{"n":17,"m":21,"r":0.74,"c":0.88},{"n":17,"m":22,"r":0.64,"c":0.86},{"n":17,"m":23,"r":0.53,"c":0.84},{"n":17,"m":24,"r":0.44,"c":0.81},{"n":17,"m":25,"r":0.4,"c":0.8},{"n":17,"m":26,"r":0.39,"c":0.76},{"n":17,"m":27,"r":0.38,"c":0.74},{"n":17,"m":28,"r":0.38,"c":0.7},{"n":17,"m":29,"r":0.38,"c":0.68},{"n":17,"m":30,"r":0.37,"c":0.65},{"n":17,"m":31,"r":0.37,"c":0.62},{"n":17,"m":32,"r":0.37,"c":0.6},
{"n":18,"m":1,"r":0.37,"c":0.5},{"n":18,"m":2,"r":0.37,"c":0.5},{"n":18,"m":3,"r":0.37,"c":0.51},{"n":18,"m":4,"r":0.37,"c":0.54},{"n":18,"m":5,"r":0.37,"c":0.59},{"n":18,"m":6,"r":0.38,"c":0.62},{"n":18,"m":7,"r":0.38,"c":0.65},{"n":18,"m":8,"r":0.38,"c":0.68},{"n":18,"m":9,"r":0.39,"c":0.72},{"n":18,"m":10,"r":0.4,"c":0.76},{"n":18,"m":11,"r":0.44,"c":0.8},{"n":18,"m":12,"r":0.53,"c":0.83},{"n":18,"m":13,"r":0.64,"c":0.86},{"n":18,"m":14,"r":0.74,"c":0.88},{"n":18,"m":15,"r":0.85,"c":0.9},{"n":18,"m":16,"r":0.9,"c":0.93},{"n":18,"m":17,"r":0.96,"c":0.95},{"n":18,"m":18,"r":1,"c":1},{"n":18,"m":19,"r":0.96,"c":0.95},{"n":18,"m":20,"r":0.9,"c":0.93},{"n":18,"m":21,"r":0.85,"c":0.9},{"n":18,"m":22,"r":0.74,"c":0.88},{"n":18,"m":23,"r":0.64,"c":0.86},{"n":18,"m":24,"r":0.53,"c":0.84},{"n":18,"m":25,"r":0.44,"c":0.81},{"n":18,"m":26,"r":0.4,"c":0.8},{"n":18,"m":27,"r":0.39,"c":0.76},{"n":18,"m":28,"r":0.38,"c":0.74},{"n":18,"m":29,"r":0.38,"c":0.7},{"n":18,"m":30,"r":0.38,"c":0.68},{"n":18,"m":31,"r":0.37,"c":0.65},{"n":18,"m":32,"r":0.37,"c":0.63},
{"n":19,"m":1,"r":0.37,"c":0.52},{"n":19,"m":2,"r":0.37,"c":0.5},{"n":19,"m":3,"r":0.37,"c":0.5},{"n":19,"m":4,"r":0.37,"c":0.52},{"n":19,"m":5,"r":0.37,"c":0.55},{"n":19,"m":6,"r":0.37,"c":0.59},{"n":19,"m":7,"r":0.38,"c":0.62},{"n":19,"m":8,"r":0.38,"c":0.66},{"n":19,"m":9,"r":0.38,"c":0.7},{"n":19,"m":10,"r":0.39,"c":0.74},{"n":19,"m":11,"r":0.4,"c":0.78},{"n":19,"m":12,"r":0.44,"c":0.8},{"n":19,"m":13,"r":0.53,"c":0.83},{"n":19,"m":14,"r":0.64,"c":0.86},{"n":19,"m":15,"r":0.74,"c":0.88},{"n":19,"m":16,"r":0.85,"c":0.9},{"n":19,"m":17,"r":0.9,"c":0.93},{"n":19,"m":18,"r":0.96,"c":0.95},{"n":19,"m":19,"r":1,"c":1},{"n":19,"m":20,"r":0.96,"c":0.95},{"n":19,"m":21,"r":0.9,"c":0.93},{"n":19,"m":22,"r":0.85,"c":0.91},{"n":19,"m":23,"r":0.74,"c":0.88},{"n":19,"m":24,"r":0.64,"c":0.87},{"n":19,"m":25,"r":0.53,"c":0.84},{"n":19,"m":26,"r":0.44,"c":0.83},{"n":19,"m":27,"r":0.4,"c":0.8},{"n":19,"m":28,"r":0.39,"c":0.78},{"n":19,"m":29,"r":0.38,"c":0.74},{"n":19,"m":30,"r":0.38,"c":0.72},{"n":19,"m":31,"r":0.38,"c":0.68},{"n":19,"m":32,"r":0.37,"c":0.66},
{"n":20,"m":1,"r":0.37,"c":0.55},{"n":20,"m":2,"r":0.37,"c":0.51},{"n":20,"m":3,"r":0.37,"c":0.5},{"n":20,"m":4,"r":0.37,"c":0.5},{"n":20,"m":5,"r":0.37,"c":0.52},{"n":20,"m":6,"r":0.37,"c":0.55},{"n":20,"m":7,"r":0.37,"c":0.6},{"n":20,"m":8,"r":0.38,"c":0.63},{"n":20,"m":9,"r":0.38,"c":0.66},{"n":20,"m":10,"r":0.38,"c":0.7},{"n":20,"m":11,"r":0.39,"c":0.74},{"n":20,"m":12,"r":0.4,"c":0.78},{"n":20,"m":13,"r":0.44,"c":0.81},{"n":20,"m":14,"r":0.53,"c":0.83},{"n":20,"m":15,"r":0.64,"c":0.86},{"n":20,"m":16,"r":0.74,"c":0.88},{"n":20,"m":17,"r":0.85,"c":0.9},{"n":20,"m":18,"r":0.9,"c":0.93},{"n":20,"m":19,"r":0.96,"c":0.95},{"n":20,"m":20,"r":1,"c":1},{"n":20,"m":21,"r":0.96,"c":0.95},{"n":20,"m":22,"r":0.9,"c":0.93},{"n":20,"m":23,"r":0.85,"c":0.91},{"n":20,"m":24,"r":0.74,"c":0.88},{"n":20,"m":25,"r":0.64,"c":0.87},{"n":20,"m":26,"r":0.53,"c":0.84},{"n":20,"m":27,"r":0.44,"c":0.83},{"n":20,"m":28,"r":0.4,"c":0.8},{"n":20,"m":29,"r":0.39,"c":0.78},{"n":20,"m":30,"r":0.38,"c":0.74},{"n":20,"m":31,"r":0.38,"c":0.72},{"n":20,"m":32,"r":0.38,"c":0.68},
{"n":21,"m":1,"r":0.38,"c":0.59},{"n":21,"m":2,"r":0.37,"c":0.55},{"n":21,"m":3,"r":0.37,"c":0.51},{"n":21,"m":4,"r":0.37,"c":0.49},{"n":21,"m":5,"r":0.37,"c":0.5},{"n":21,"m":6,"r":0.37,"c":0.54},{"n":21,"m":7,"r":0.37,"c":0.57},{"n":21,"m":8,"r":0.37,"c":0.6},{"n":21,"m":9,"r":0.38,"c":0.63},{"n":21,"m":10,"r":0.38,"c":0.66},{"n":21,"m":11,"r":0.38,"c":0.7},{"n":21,"m":12,"r":0.39,"c":0.74},{"n":21,"m":13,"r":0.4,"c":0.78},{"n":21,"m":14,"r":0.44,"c":0.81},{"n":21,"m":15,"r":0.53,"c":0.83},{"n":21,"m":16,"r":0.64,"c":0.86},{"n":21,"m":17,"r":0.74,"c":0.88},{"n":21,"m":18,"r":0.85,"c":0.9},{"n":21,"m":19,"r":0.9,"c":0.93},{"n":21,"m":20,"r":0.96,"c":0.95},{"n":21,"m":21,"r":1,"c":1},{"n":21,"m":22,"r":0.96,"c":0.95},{"n":21,"m":23,"r":0.9,"c":0.93},{"n":21,"m":24,"r":0.85,"c":0.91},{"n":21,"m":25,"r":0.74,"c":0.88},{"n":21,"m":26,"r":0.64,"c":0.87},{"n":21,"m":27,"r":0.53,"c":0.84},{"n":21,"m":28,"r":0.44,"c":0.83},{"n":21,"m":29,"r":0.4,"c":0.8},{"n":21,"m":30,"r":0.39,"c":0.78},{"n":21,"m":31,"r":0.38,"c":0.74},{"n":21,"m":32,"r":0.38,"c":0.72},
{"n":22,"m":1,"r":0.38,"c":0.62},{"n":22,"m":2,"r":0.38,"c":0.59},{"n":22,"m":3,"r":0.37,"c":0.54},{"n":22,"m":4,"r":0.37,"c":0.5},{"n":22,"m":5,"r":0.37,"c":0.49},{"n":22,"m":6,"r":0.37,"c":0.51},{"n":22,"m":7,"r":0.37,"c":0.54},{"n":22,"m":8,"r":0.37,"c":0.57},{"n":22,"m":9,"r":0.37,"c":0.6},{"n":22,"m":10,"r":0.38,"c":0.63},{"n":22,"m":11,"r":0.38,"c":0.66},{"n":22,"m":12,"r":0.38,"c":0.7},{"n":22,"m":13,"r":0.39,"c":0.74},{"n":22,"m":14,"r":0.4,"c":0.78},{"n":22,"m":15,"r":0.44,"c":0.81},{"n":22,"m":16,"r":0.53,"c":0.84},{"n":22,"m":17,"r":0.64,"c":0.86},{"n":22,"m":18,"r":0.74,"c":0.88},{"n":22,"m":19,"r":0.85,"c":0.91},{"n":22,"m":20,"r":0.9,"c":0.93},{"n":22,"m":21,"r":0.96,"c":0.95},{"n":22,"m":22,"r":1,"c":1},{"n":22,"m":23,"r":0.96,"c":0.95},{"n":22,"m":24,"r":0.9,"c":0.93},{"n":22,"m":25,"r":0.85,"c":0.91},{"n":22,"m":26,"r":0.74,"c":0.88},{"n":22,"m":27,"r":0.64,"c":0.87},{"n":22,"m":28,"r":0.53,"c":0.84},{"n":22,"m":29,"r":0.44,"c":0.83},{"n":22,"m":30,"r":0.4,"c":0.81},{"n":22,"m":31,"r":0.39,"c":0.78},{"n":22,"m":32,"r":0.38,"c":0.76},
{"n":23,"m":1,"r":0.38,"c":0.65},{"n":23,"m":2,"r":0.38,"c":0.62},{"n":23,"m":3,"r":0.38,"c":0.57},{"n":23,"m":4,"r":0.37,"c":0.52},{"n":23,"m":5,"r":0.37,"c":0.5},{"n":23,"m":6,"r":0.37,"c":0.5},{"n":23,"m":7,"r":0.37,"c":0.51},{"n":23,"m":8,"r":0.37,"c":0.54},{"n":23,"m":9,"r":0.37,"c":0.59},{"n":23,"m":10,"r":0.37,"c":0.62},{"n":23,"m":11,"r":0.38,"c":0.65},{"n":23,"m":12,"r":0.38,"c":0.68},{"n":23,"m":13,"r":0.38,"c":0.72},{"n":23,"m":14,"r":0.39,"c":0.76},{"n":23,"m":15,"r":0.4,"c":0.78},{"n":23,"m":16,"r":0.44,"c":0.81},{"n":23,"m":17,"r":0.53,"c":0.84},{"n":23,"m":18,"r":0.64,"c":0.86},{"n":23,"m":19,"r":0.74,"c":0.88},{"n":23,"m":20,"r":0.85,"c":0.91},{"n":23,"m":21,"r":0.9,"c":0.93},{"n":23,"m":22,"r":0.96,"c":0.95},{"n":23,"m":23,"r":1,"c":1},{"n":23,"m":24,"r":0.96,"c":0.95},{"n":23,"m":25,"r":0.9,"c":0.93},{"n":23,"m":26,"r":0.85,"c":0.91},{"n":23,"m":27,"r":0.74,"c":0.88},{"n":23,"m":28,"r":0.64,"c":0.87},{"n":23,"m":29,"r":0.53,"c":0.86},{"n":23,"m":30,"r":0.44,"c":0.83},{"n":23,"m":31,"r":0.4,"c":0.81},{"n":23,"m":32,"r":0.39,"c":0.78},
{"n":24,"m":1,"r":0.39,"c":0.68},{"n":24,"m":2,"r":0.38,"c":0.65},{"n":24,"m":3,"r":0.38,"c":0.6},{"n":24,"m":4,"r":0.38,"c":0.57},{"n":24,"m":5,"r":0.37,"c":0.52},{"n":24,"m":6,"r":0.37,"c":0.5},{"n":24,"m":7,"r":0.37,"c":0.5},{"n":24,"m":8,"r":0.37,"c":0.52},{"n":24,"m":9,"r":0.37,"c":0.55},{"n":24,"m":10,"r":0.37,"c":0.59},{"n":24,"m":11,"r":0.37,"c":0.62},{"n":24,"m":12,"r":0.38,"c":0.65},{"n":24,"m":13,"r":0.38,"c":0.68},{"n":24,"m":14,"r":0.38,"c":0.72},{"n":24,"m":15,"r":0.39,"c":0.76},{"n":24,"m":16,"r":0.4,"c":0.8},{"n":24,"m":17,"r":0.44,"c":0.81},{"n":24,"m":18,"r":0.53,"c":0.84},{"n":24,"m":19,"r":0.64,"c":0.87},{"n":24,"m":20,"r":0.74,"c":0.88},{"n":24,"m":21,"r":0.85,"c":0.91},{"n":24,"m":22,"r":0.9,"c":0.93},{"n":24,"m":23,"r":0.96,"c":0.95},{"n":24,"m":24,"r":1,"c":1},{"n":24,"m":25,"r":0.96,"c":0.95},{"n":24,"m":26,"r":0.9,"c":0.93},{"n":24,"m":27,"r":0.85,"c":0.91},{"n":24,"m":28,"r":0.74,"c":0.88},{"n":24,"m":29,"r":0.64,"c":0.87},{"n":24,"m":30,"r":0.53,"c":0.86},{"n":24,"m":31,"r":0.44,"c":0.83},{"n":24,"m":32,"r":0.4,"c":0.81},
{"n":25,"m":1,"r":0.4,"c":0.72},{"n":25,"m":2,"r":0.39,"c":0.68},{"n":25,"m":3,"r":0.38,"c":0.63},{"n":25,"m":4,"r":0.38,"c":0.6},{"n":25,"m":5,"r":0.38,"c":0.55},{"n":25,"m":6,"r":0.37,"c":0.51},{"n":25,"m":7,"r":0.37,"c":0.49},{"n":25,"m":8,"r":0.37,"c":0.5},{"n":25,"m":9,"r":0.37,"c":0.52},{"n":25,"m":10,"r":0.37,"c":0.55},{"n":25,"m":11,"r":0.37,"c":0.59},{"n":25,"m":12,"r":0.37,"c":0.62},{"n":25,"m":13,"r":0.38,"c":0.65},{"n":25,"m":14,"r":0.38,"c":0.68},{"n":25,"m":15,"r":0.38,"c":0.72},{"n":25,"m":16,"r":0.39,"c":0.76},{"n":25,"m":17,"r":0.4,"c":0.8},{"n":25,"m":18,"r":0.44,"c":0.81},{"n":25,"m":19,"r":0.53,"c":0.84},{"n":25,"m":20,"r":0.64,"c":0.87},{"n":25,"m":21,"r":0.74,"c":0.88},{"n":25,"m":22,"r":0.85,"c":0.91},{"n":25,"m":23,"r":0.9,"c":0.93},{"n":25,"m":24,"r":0.96,"c":0.95},{"n":25,"m":25,"r":1,"c":1},{"n":25,"m":26,"r":0.96,"c":0.95},{"n":25,"m":27,"r":0.9,"c":0.93},{"n":25,"m":28,"r":0.85,"c":0.91},{"n":25,"m":29,"r":0.74,"c":0.88},{"n":25,"m":30,"r":0.64,"c":0.87},{"n":25,"m":31,"r":0.53,"c":0.86},{"n":25,"m":32,"r":0.44,"c":0.83},
{"n":26,"m":1,"r":0.44,"c":0.76},{"n":26,"m":2,"r":0.4,"c":0.72},{"n":26,"m":3,"r":0.39,"c":0.66},{"n":26,"m":4,"r":0.38,"c":0.63},{"n":26,"m":5,"r":0.38,"c":0.59},{"n":26,"m":6,"r":0.38,"c":0.55},{"n":26,"m":7,"r":0.37,"c":0.51},{"n":26,"m":8,"r":0.37,"c":0.49},{"n":26,"m":9,"r":0.37,"c":0.5},{"n":26,"m":10,"r":0.37,"c":0.54},{"n":26,"m":11,"r":0.37,"c":0.57},{"n":26,"m":12,"r":0.37,"c":0.6},{"n":26,"m":13,"r":0.37,"c":0.63},{"n":26,"m":14,"r":0.38,"c":0.66},{"n":26,"m":15,"r":0.38,"c":0.7},{"n":26,"m":16,"r":0.38,"c":0.72},{"n":26,"m":17,"r":0.39,"c":0.76},{"n":26,"m":18,"r":0.4,"c":0.8},{"n":26,"m":19,"r":0.44,"c":0.83},{"n":26,"m":20,"r":0.53,"c":0.84},{"n":26,"m":21,"r":0.64,"c":0.87},{"n":26,"m":22,"r":0.74,"c":0.88},{"n":26,"m":23,"r":0.85,"c":0.91},{"n":26,"m":24,"r":0.9,"c":0.93},{"n":26,"m":25,"r":0.96,"c":0.95},{"n":26,"m":26,"r":1,"c":1},{"n":26,"m":27,"r":0.96,"c":0.95},{"n":26,"m":28,"r":0.9,"c":0.93},{"n":26,"m":29,"r":0.85,"c":0.91},{"n":26,"m":30,"r":0.74,"c":0.9},{"n":26,"m":31,"r":0.64,"c":0.87},{"n":26,"m":32,"r":0.53,"c":0.86},
{"n":27,"m":1,"r":0.53,"c":0.8},{"n":27,"m":2,"r":0.44,"c":0.76},{"n":27,"m":3,"r":0.4,"c":0.7},{"n":27,"m":4,"r":0.39,"c":0.66},{"n":27,"m":5,"r":0.38,"c":0.62},{"n":27,"m":6,"r":0.38,"c":0.59},{"n":27,"m":7,"r":0.38,"c":0.54},{"n":27,"m":8,"r":0.37,"c":0.5},{"n":27,"m":9,"r":0.37,"c":0.5},{"n":27,"m":10,"r":0.37,"c":0.51},{"n":27,"m":11,"r":0.37,"c":0.54},{"n":27,"m":12,"r":0.37,"c":0.57},{"n":27,"m":13,"r":0.37,"c":0.6},{"n":27,"m":14,"r":0.37,"c":0.63},{"n":27,"m":15,"r":0.38,"c":0.66},{"n":27,"m":16,"r":0.38,"c":0.7},{"n":27,"m":17,"r":0.38,"c":0.74},{"n":27,"m":18,"r":0.39,"c":0.76},{"n":27,"m":19,"r":0.4,"c":0.8},{"n":27,"m":20,"r":0.44,"c":0.83},{"n":27,"m":21,"r":0.53,"c":0.84},{"n":27,"m":22,"r":0.64,"c":0.87},{"n":27,"m":23,"r":0.74,"c":0.88},{"n":27,"m":24,"r":0.85,"c":0.91},{"n":27,"m":25,"r":0.9,"c":0.93},{"n":27,"m":26,"r":0.96,"c":0.95},{"n":27,"m":27,"r":1,"c":1},{"n":27,"m":28,"r":0.96,"c":0.95},{"n":27,"m":29,"r":0.9,"c":0.93},{"n":27,"m":30,"r":0.85,"c":0.91},{"n":27,"m":31,"r":0.74,"c":0.9},{"n":27,"m":32,"r":0.64,"c":0.87},
{"n":28,"m":1,"r":0.64,"c":0.83},{"n":28,"m":2,"r":0.53,"c":0.8},{"n":28,"m":3,"r":0.44,"c":0.74},{"n":28,"m":4,"r":0.4,"c":0.7},{"n":28,"m":5,"r":0.39,"c":0.66},{"n":28,"m":6,"r":0.38,"c":0.62},{"n":28,"m":7,"r":0.38,"c":0.57},{"n":28,"m":8,"r":0.38,"c":0.52},{"n":28,"m":9,"r":0.37,"c":0.5},{"n":28,"m":10,"r":0.37,"c":0.5},{"n":28,"m":11,"r":0.37,"c":0.51},{"n":28,"m":12,"r":0.37,"c":0.54},{"n":28,"m":13,"r":0.37,"c":0.59},{"n":28,"m":14,"r":0.37,"c":0.6},{"n":28,"m":15,"r":0.37,"c":0.63},{"n":28,"m":16,"r":0.38,"c":0.66},{"n":28,"m":17,"r":0.38,"c":0.7},{"n":28,"m":18,"r":0.38,"c":0.74},{"n":28,"m":19,"r":0.39,"c":0.78},{"n":28,"m":20,"r":0.4,"c":0.8},{"n":28,"m":21,"r":0.44,"c":0.83},{"n":28,"m":22,"r":0.53,"c":0.84},{"n":28,"m":23,"r":0.64,"c":0.87},{"n":28,"m":24,"r":0.74,"c":0.88},{"n":28,"m":25,"r":0.85,"c":0.91},{"n":28,"m":26,"r":0.9,"c":0.93},{"n":28,"m":27,"r":0.96,"c":0.95},{"n":28,"m":28,"r":1,"c":1},{"n":28,"m":29,"r":0.96,"c":0.95},{"n":28,"m":30,"r":0.9,"c":0.93},{"n":28,"m":31,"r":0.85,"c":0.91},{"n":28,"m":32,"r":0.74,"c":0.9},
{"n":29,"m":1,"r":0.74,"c":0.86},{"n":29,"m":2,"r":0.64,"c":0.83},{"n":29,"m":3,"r":0.53,"c":0.8},{"n":29,"m":4,"r":0.44,"c":0.74},{"n":29,"m":5,"r":0.4,"c":0.7},{"n":29,"m":6,"r":0.39,"c":0.65},{"n":29,"m":7,"r":0.38,"c":0.6},{"n":29,"m":8,"r":0.38,"c":0.57},{"n":29,"m":9,"r":0.38,"c":0.52},{"n":29,"m":10,"r":0.37,"c":0.5},{"n":29,"m":11,"r":0.37,"c":0.5},{"n":29,"m":12,"r":0.37,"c":0.52},{"n":29,"m":13,"r":0.37,"c":0.55},{"n":29,"m":14,"r":0.37,"c":0.59},{"n":29,"m":15,"r":0.37,"c":0.62},{"n":29,"m":16,"r":0.37,"c":0.65},{"n":29,"m":17,"r":0.38,"c":0.68},{"n":29,"m":18,"r":0.38,"c":0.7},{"n":29,"m":19,"r":0.38,"c":0.74},{"n":29,"m":20,"r":0.39,"c":0.78},{"n":29,"m":21,"r":0.4,"c":0.8},{"n":29,"m":22,"r":0.44,"c":0.83},{"n":29,"m":23,"r":0.53,"c":0.86},{"n":29,"m":24,"r":0.64,"c":0.87},{"n":29,"m":25,"r":0.74,"c":0.88},{"n":29,"m":26,"r":0.85,"c":0.91},{"n":29,"m":27,"r":0.9,"c":0.93},{"n":29,"m":28,"r":0.96,"c":0.95},{"n":29,"m":29,"r":1,"c":1},{"n":29,"m":30,"r":0.96,"c":0.95},{"n":29,"m":31,"r":0.9,"c":0.93},{"n":29,"m":32,"r":0.85,"c":0.91},
{"n":30,"m":1,"r":0.85,"c":0.88},{"n":30,"m":2,"r":0.74,"c":0.86},{"n":30,"m":3,"r":0.64,"c":0.83},{"n":30,"m":4,"r":0.53,"c":0.78},{"n":30,"m":5,"r":0.44,"c":0.74},{"n":30,"m":6,"r":0.4,"c":0.68},{"n":30,"m":7,"r":0.39,"c":0.65},{"n":30,"m":8,"r":0.38,"c":0.6},{"n":30,"m":9,"r":0.38,"c":0.55},{"n":30,"m":10,"r":0.38,"c":0.51},{"n":30,"m":11,"r":0.37,"c":0.49},{"n":30,"m":12,"r":0.37,"c":0.5},{"n":30,"m":13,"r":0.37,"c":0.52},{"n":30,"m":14,"r":0.37,"c":0.55},{"n":30,"m":15,"r":0.37,"c":0.59},{"n":30,"m":16,"r":0.37,"c":0.62},{"n":30,"m":17,"r":0.37,"c":0.65},{"n":30,"m":18,"r":0.38,"c":0.68},{"n":30,"m":19,"r":0.38,"c":0.72},{"n":30,"m":20,"r":0.38,"c":0.74},{"n":30,"m":21,"r":0.39,"c":0.78},{"n":30,"m":22,"r":0.4,"c":0.81},{"n":30,"m":23,"r":0.44,"c":0.83},{"n":30,"m":24,"r":0.53,"c":0.86},{"n":30,"m":25,"r":0.64,"c":0.87},{"n":30,"m":26,"r":0.74,"c":0.9},{"n":30,"m":27,"r":0.85,"c":0.91},{"n":30,"m":28,"r":0.9,"c":0.93},{"n":30,"m":29,"r":0.96,"c":0.95},{"n":30,"m":30,"r":1,"c":1},{"n":30,"m":31,"r":0.96,"c":0.95},{"n":30,"m":32,"r":0.9,"c":0.93},
{"n":31,"m":1,"r":0.9,"c":0.91},{"n":31,"m":2,"r":0.85,"c":0.88},{"n":31,"m":3,"r":0.74,"c":0.86},{"n":31,"m":4,"r":0.64,"c":0.81},{"n":31,"m":5,"r":0.53,"c":0.78},{"n":31,"m":6,"r":0.44,"c":0.74},{"n":31,"m":7,"r":0.4,"c":0.68},{"n":31,"m":8,"r":0.39,"c":0.63},{"n":31,"m":9,"r":0.38,"c":0.59},{"n":31,"m":10,"r":0.38,"c":0.55},{"n":31,"m":11,"r":0.38,"c":0.5},{"n":31,"m":12,"r":0.37,"c":0.5},{"n":31,"m":13,"r":0.37,"c":0.51},{"n":31,"m":14,"r":0.37,"c":0.54},{"n":31,"m":15,"r":0.37,"c":0.57},{"n":31,"m":16,"r":0.37,"c":0.6},{"n":31,"m":17,"r":0.37,"c":0.62},{"n":31,"m":18,"r":0.37,"c":0.65},{"n":31,"m":19,"r":0.38,"c":0.68},{"n":31,"m":20,"r":0.38,"c":0.72},{"n":31,"m":21,"r":0.38,"c":0.74},{"n":31,"m":22,"r":0.39,"c":0.78},{"n":31,"m":23,"r":0.4,"c":0.81},{"n":31,"m":24,"r":0.44,"c":0.83},{"n":31,"m":25,"r":0.53,"c":0.86},{"n":31,"m":26,"r":0.64,"c":0.87},{"n":31,"m":27,"r":0.74,"c":0.9},{"n":31,"m":28,"r":0.85,"c":0.91},{"n":31,"m":29,"r":0.9,"c":0.93},{"n":31,"m":30,"r":0.96,"c":0.95},{"n":31,"m":31,"r":1,"c":1},{"n":31,"m":32,"r":0.96,"c":0.95},
{"n":32,"m":1,"r":0.96,"c":0.95},{"n":32,"m":2,"r":0.9,"c":0.91},{"n":32,"m":3,"r":0.85,"c":0.88},{"n":32,"m":4,"r":0.74,"c":0.86},{"n":32,"m":5,"r":0.64,"c":0.81},{"n":32,"m":6,"r":0.53,"c":0.78},{"n":32,"m":7,"r":0.44,"c":0.72},{"n":32,"m":8,"r":0.4,"c":0.68},{"n":32,"m":9,"r":0.39,"c":0.63},{"n":32,"m":10,"r":0.38,"c":0.59},{"n":32,"m":11,"r":0.38,"c":0.54},{"n":32,"m":12,"r":0.38,"c":0.5},{"n":32,"m":13,"r":0.37,"c":0.5},{"n":32,"m":14,"r":0.37,"c":0.51},{"n":32,"m":15,"r":0.37,"c":0.54},{"n":32,"m":16,"r":0.37,"c":0.57},{"n":32,"m":17,"r":0.37,"c":0.6},{"n":32,"m":18,"r":0.37,"c":0.63},{"n":32,"m":19,"r":0.37,"c":0.66},{"n":32,"m":20,"r":0.38,"c":0.68},{"n":32,"m":21,"r":0.38,"c":0.72},{"n":32,"m":22,"r":0.38,"c":0.76},{"n":32,"m":23,"r":0.39,"c":0.78},{"n":32,"m":24,"r":0.4,"c":0.81},{"n":32,"m":25,"r":0.44,"c":0.83},{"n":32,"m":26,"r":0.53,"c":0.86},{"n":32,"m":27,"r":0.64,"c":0.87},{"n":32,"m":28,"r":0.74,"c":0.9},{"n":32,"m":29,"r":0.85,"c":0.91},{"n":32,"m":30,"r":0.9,"c":0.93},{"n":32,"m":31,"r":0.96,"c":0.95},{"n":32,"m":32,"r":1,"c":1}
]},
"concat":[
{"width":276,"height":33,"data":{"name":"cbar"},"mark":{"type":"rect","binSpacing":0,"strokeWidth":0.6},
"encoding":{"x":{"field":"v","type":"quantitative","bin":{"extent":[0,1],"step":0.01},"scale":{"domain":[0,1],"nice":false,"zero":false},"axis":{"orient":"top","values":[0,1],"format":"~g","labelFlush":false,"ticks":false,"domain":false,"labelFontSize":18,"labelPadding":5,"title":"rₙₘ","titleFontStyle":"italic","titleFontSize":18,"titleY":-13,"titleBaseline":"alphabetic"}},
"color":{"field":"v","type":"quantitative","legend":null,"scale":{"domain":[0,0.08,0.18,0.28,0.36,0.44,0.5,0.56,0.62,0.7,0.78,0.86,0.93,1],"range":["#35306e","#2b3088","#2842a4","#1f72c4","#17a4e2","#3cbcc8","#80cc88","#c8dc3c","#f6e413","#f9b51e","#f47c22","#e9262a","#c6302a","#8c4233"],"interpolate":"rgb"}},
"stroke":{"field":"v","type":"quantitative","legend":null,"scale":{"domain":[0,0.08,0.18,0.28,0.36,0.44,0.5,0.56,0.62,0.7,0.78,0.86,0.93,1],"range":["#35306e","#2b3088","#2842a4","#1f72c4","#17a4e2","#3cbcc8","#80cc88","#c8dc3c","#f6e413","#f9b51e","#f47c22","#e9262a","#c6302a","#8c4233"],"interpolate":"rgb"}}}},
{"width":276,"height":33,"data":{"name":"cbar"},"mark":{"type":"rect","binSpacing":0,"strokeWidth":0.6},
"encoding":{"x":{"field":"v","type":"quantitative","bin":{"extent":[0,1],"step":0.01},"scale":{"domain":[0,1],"nice":false,"zero":false},"axis":{"orient":"top","values":[0,1],"format":"~g","labelFlush":false,"ticks":false,"domain":false,"labelFontSize":18,"labelPadding":5,"title":"max[Cₙₘ(τ)]","titleFontSize":20,"titleY":-15,"titleBaseline":"alphabetic"}},
"color":{"field":"v","type":"quantitative","legend":null,"scale":{"domain":[0,0.08,0.18,0.28,0.36,0.44,0.5,0.56,0.62,0.7,0.78,0.86,0.93,1],"range":["#35306e","#2b3088","#2842a4","#1f72c4","#17a4e2","#3cbcc8","#80cc88","#c8dc3c","#f6e413","#f9b51e","#f47c22","#e9262a","#c6302a","#8c4233"],"interpolate":"rgb"}},
"stroke":{"field":"v","type":"quantitative","legend":null,"scale":{"domain":[0,0.08,0.18,0.28,0.36,0.44,0.5,0.56,0.62,0.7,0.78,0.86,0.93,1],"range":["#35306e","#2b3088","#2842a4","#1f72c4","#17a4e2","#3cbcc8","#80cc88","#c8dc3c","#f6e413","#f9b51e","#f47c22","#e9262a","#c6302a","#8c4233"],"interpolate":"rgb"}}}},
{"width":26,"height":33,"data":{"values":[]},"mark":{"type":"point","opacity":0},"view":{"stroke":null}},
{"width":287,"height":33,"data":{"values":[]},"mark":{"type":"point","opacity":0},"view":{"stroke":null}},
{"width":276,"height":276,"layer":[
{"data":{"name":"cells"},"mark":{"type":"rect","strokeWidth":0.6},
"encoding":{"x":{"field":"m","type":"ordinal","axis":null},
"y":{"field":"n","type":"ordinal","axis":{"values":[1,16,32],"ticks":false,"domain":false,"labelFontSize":15,"labelPadding":7,"labelAngle":0,"title":"Node n","titleFontSize":15,"titlePadding":16}},
"color":{"field":"r","type":"quantitative","legend":null,"scale":{"domain":[0,0.08,0.18,0.28,0.36,0.44,0.5,0.56,0.62,0.7,0.78,0.86,0.93,1],"range":["#35306e","#2b3088","#2842a4","#1f72c4","#17a4e2","#3cbcc8","#80cc88","#c8dc3c","#f6e413","#f9b51e","#f47c22","#e9262a","#c6302a","#8c4233"],"interpolate":"rgb"}},
"stroke":{"field":"r","type":"quantitative","legend":null,"scale":{"domain":[0,0.08,0.18,0.28,0.36,0.44,0.5,0.56,0.62,0.7,0.78,0.86,0.93,1],"range":["#35306e","#2b3088","#2842a4","#1f72c4","#17a4e2","#3cbcc8","#80cc88","#c8dc3c","#f6e413","#f9b51e","#f47c22","#e9262a","#c6302a","#8c4233"],"interpolate":"rgb"}}}},
{"data":{"values":[{"n":32,"m":1,"t":"a)"}]},"mark":{"type":"text","align":"left","baseline":"alphabetic","dx":-59,"dy":10,"fontSize":21,"font":"Liberation Serif","color":"#222"},
"encoding":{"x":{"field":"m","type":"ordinal","axis":null},"y":{"field":"n","type":"ordinal","axis":{"values":[1,16,32],"ticks":false,"domain":false,"labelFontSize":15,"labelPadding":7,"labelAngle":0,"title":"Node n","titleFontSize":15,"titlePadding":16}},"text":{"field":"t"}}}
]},
{"width":276,"height":276,"data":{"name":"cells"},"mark":{"type":"rect","strokeWidth":0.6},
"encoding":{"x":{"field":"m","type":"ordinal","axis":null},"y":{"field":"n","type":"ordinal","axis":null},
"color":{"field":"c","type":"quantitative","legend":null,"scale":{"domain":[0,0.08,0.18,0.28,0.36,0.44,0.5,0.56,0.62,0.7,0.78,0.86,0.93,1],"range":["#35306e","#2b3088","#2842a4","#1f72c4","#17a4e2","#3cbcc8","#80cc88","#c8dc3c","#f6e413","#f9b51e","#f47c22","#e9262a","#c6302a","#8c4233"],"interpolate":"rgb"}},
"stroke":{"field":"c","type":"quantitative","legend":null,"scale":{"domain":[0,0.08,0.18,0.28,0.36,0.44,0.5,0.56,0.62,0.7,0.78,0.86,0.93,1],"range":["#35306e","#2b3088","#2842a4","#1f72c4","#17a4e2","#3cbcc8","#80cc88","#c8dc3c","#f6e413","#f9b51e","#f47c22","#e9262a","#c6302a","#8c4233"],"interpolate":"rgb"}}}},
{"width":26,"height":276,"data":{"values":[]},"mark":{"type":"point","opacity":0},"view":{"stroke":null}},
{"width":287,"height":274,"data":{"name":"spec"},"view":{"stroke":null},
"layer":[
{"mark":{"type":"area","color":"#2d2f96","opacity":0.95,"stroke":"#2a2c80","strokeWidth":0.8},
"encoding":{"x":{"field":"f","type":"quantitative","scale":{"domain":[0,287],"nice":false},"axis":{"labels":false,"tickSize":-4,"values":[0,100,200],"title":null,"domainColor":"#555","tickColor":"#555"}},
"y":{"field":"lo","type":"quantitative","scale":{"domain":[0,0.5],"nice":false},"axis":{"values":[0,0.1,0.2,0.3,0.4,0.5],"format":"~g","tickSize":-4,"labelPadding":13,"labelFontSize":18,"domainColor":"#555","tickColor":"#555","title":"⟨|ℑ(vG,n)|⟩ₙ","titleFontSize":16,"titlePadding":6}},
"y2":{"field":"hi"}}},
{"mark":{"type":"line","color":"#3b3fa0","strokeWidth":0.6},
"encoding":{"x":{"field":"f","type":"quantitative","axis":{"orient":"top","labels":false,"tickSize":-4,"values":[0,100,200],"title":null,"domainColor":"#555","tickColor":"#555"}},
"y":{"field":"hi","type":"quantitative"}}}
],"resolve":{"axis":{"x":"independent"}}}
],
"columns":4,"spacing":{"row":15,"column":40},"bounds":"flush","align":"each"
}
